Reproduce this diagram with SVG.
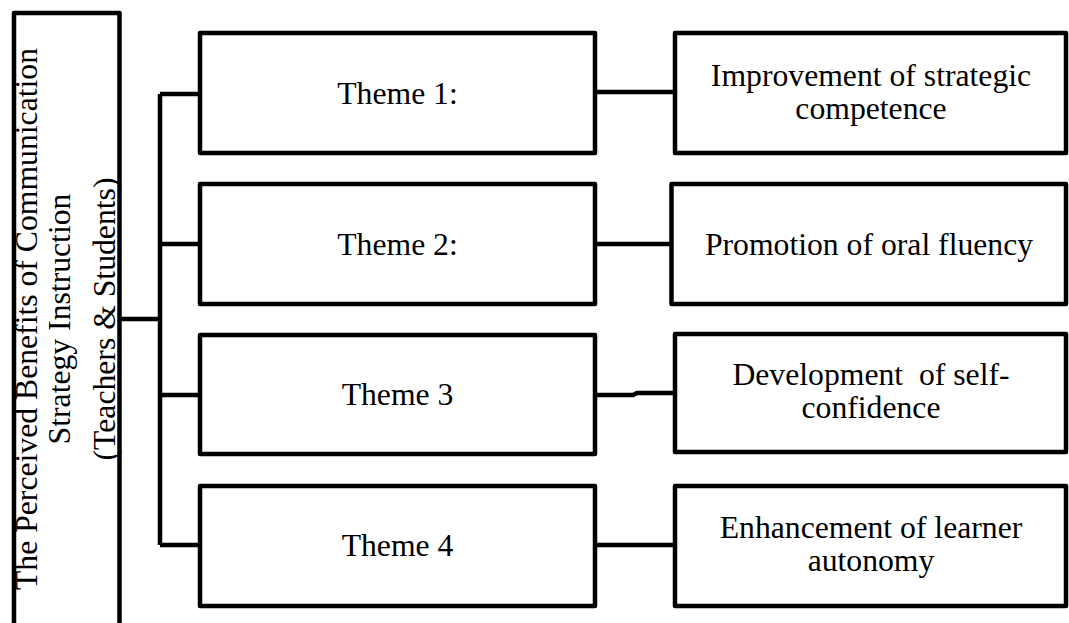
<svg xmlns="http://www.w3.org/2000/svg" width="1069" height="623" viewBox="0 0 1069 623">
  <style>
    .box { fill: #ffffff; stroke: #000000; stroke-width: 4.5; stroke-linejoin: round; }
    .link { fill: none; stroke: #000000; stroke-width: 4.5; stroke-linejoin: round; }
    .label { font-family: "Liberation Serif", "Times New Roman", serif; font-size: 31.7px; fill: #000000; text-anchor: middle; }
  </style>
  <rect width="1069" height="623" fill="#ffffff"/>

  <!-- connectors -->
  <g id="connectors">
    <path class="link" d="M119.5 319 H160"/>
    <path class="link" d="M160 94 V545"/>
    <path class="link" d="M160 94 H200"/>
    <path class="link" d="M160 244 H200"/>
    <path class="link" d="M160 395 H200"/>
    <path class="link" d="M160 545 H200"/>
    <path class="link" d="M595 92 H675"/>
    <path class="link" d="M595 244 H671.5"/>
    <path class="link" d="M595 395 H633 L637 393 H675"/>
    <path class="link" d="M595 545 H675"/>
  </g>

  <!-- root: vertical title box -->
  <g id="root">
    <rect class="box" x="14" y="13" width="105.5" height="640"/>
    <g transform="rotate(-90)">
      <text class="label" x="-319" y="37">The Perceived Benefits of Communication</text>
      <text class="label" x="-319" y="70">Strategy Instruction</text>
      <text class="label" x="-319" y="115">(Teachers &amp; Students)</text>
    </g>
  </g>

  <!-- themes -->
  <g id="theme1">
    <rect class="box" x="200" y="33" width="395" height="120"/>
    <text class="label" x="397.5" y="103.5">Theme 1:</text>
  </g>
  <g id="theme2">
    <rect class="box" x="200" y="184" width="395" height="120"/>
    <text class="label" x="397.5" y="254.5">Theme 2:</text>
  </g>
  <g id="theme3">
    <rect class="box" x="200" y="335" width="395" height="119"/>
    <text class="label" x="397.5" y="405">Theme 3</text>
  </g>
  <g id="theme4">
    <rect class="box" x="200" y="486" width="395" height="120"/>
    <text class="label" x="397.5" y="556">Theme 4</text>
  </g>

  <!-- benefits -->
  <g id="benefit1">
    <rect class="box" x="675" y="33" width="391" height="120"/>
    <text class="label" x="871" y="86">Improvement of strategic</text>
    <text class="label" x="871" y="118.5">competence</text>
  </g>
  <g id="benefit2">
    <rect class="box" x="671.5" y="184" width="394.5" height="120"/>
    <text class="label" x="869" y="255">Promotion of oral fluency</text>
  </g>
  <g id="benefit3">
    <rect class="box" x="675" y="334" width="391" height="118"/>
    <text class="label" x="871" y="385" xml:space="preserve">Development  of self-</text>
    <text class="label" x="871" y="418">confidence</text>
  </g>
  <g id="benefit4">
    <rect class="box" x="675" y="486" width="391" height="120"/>
    <text class="label" x="871" y="538">Enhancement of learner</text>
    <text class="label" x="871" y="570.5">autonomy</text>
  </g>
</svg>
